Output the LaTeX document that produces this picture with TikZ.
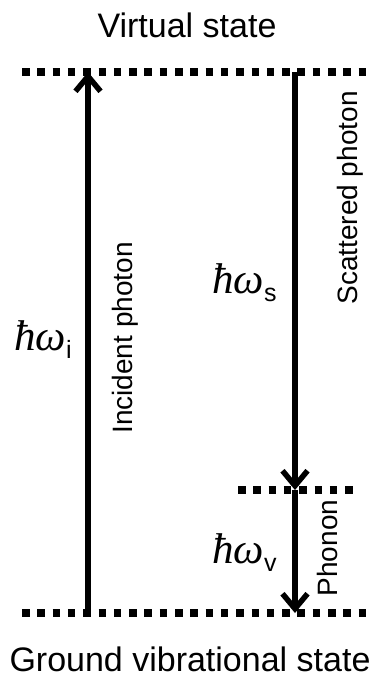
\documentclass[tikz,border=0pt]{standalone}
\usepackage{fontspec}
\setmainfont{Liberation Sans}
\newfontfamily\symf{Liberation Serif}
\usetikzlibrary{arrows.meta}
\newcommand{\hw}[1]{{\fontsize{43}{43}\selectfont\symf\itshape ħω}\raisebox{-8pt}{\fontsize{25}{25}\selectfont #1}}
\begin{document}
\begin{tikzpicture}[x=1pt,y=-1pt,
  level/.style={line width=7.5pt, dash pattern=on 7.5pt off 7.8pt},
  trans/.style={line width=5.5pt, -{Straight Barb[length=15pt,width=25pt]}},
  state/.style={font=\fontsize{34}{36}\selectfont, inner sep=0pt, anchor=base},
  lab/.style={font=\fontsize{28}{30}\selectfont, rotate=90, inner sep=0pt},
  en/.style={inner sep=0pt, anchor=base west}]
\useasboundingbox (0,0) rectangle (376,682);
\coordinate (vl) at (22,72);  \coordinate (vr) at (366,72);
\coordinate (gl) at (22,613); \coordinate (gr) at (366,613);
\coordinate (ml) at (238,490); \coordinate (mr) at (356,490);
\coordinate (ib) at (88,613); \coordinate (it) at (88,72);
\coordinate (st) at (295,72); \coordinate (sb) at (295,490);
\coordinate (pb) at (295,613);
\draw[level] (vl) -- (vr);
\draw[level] (gl) -- (gr);
\draw[level] (ml) -- (mr);
\draw[trans] (ib) -- (it);
\draw[trans] (st) -- (sb);
\draw[trans] (sb) -- (pb);
\node[state] (vs) at (187,38) {Virtual state};
\node[state] (gs) at (190,671) {Ground vibrational state};
\node[lab] (inc) at (125,338) {Incident photon};
\node[lab] (sca) at (350,198) {Scattered photon};
\node[lab] (pho) at (327,548) {Phonon};
\node[en] (wi) at (14,350) {\hw{i}};
\node[en] (ws) at (212,293) {\hw{s}};
\node[en] (wv) at (212,563) {\hw{v}};
\end{tikzpicture}
\end{document}
